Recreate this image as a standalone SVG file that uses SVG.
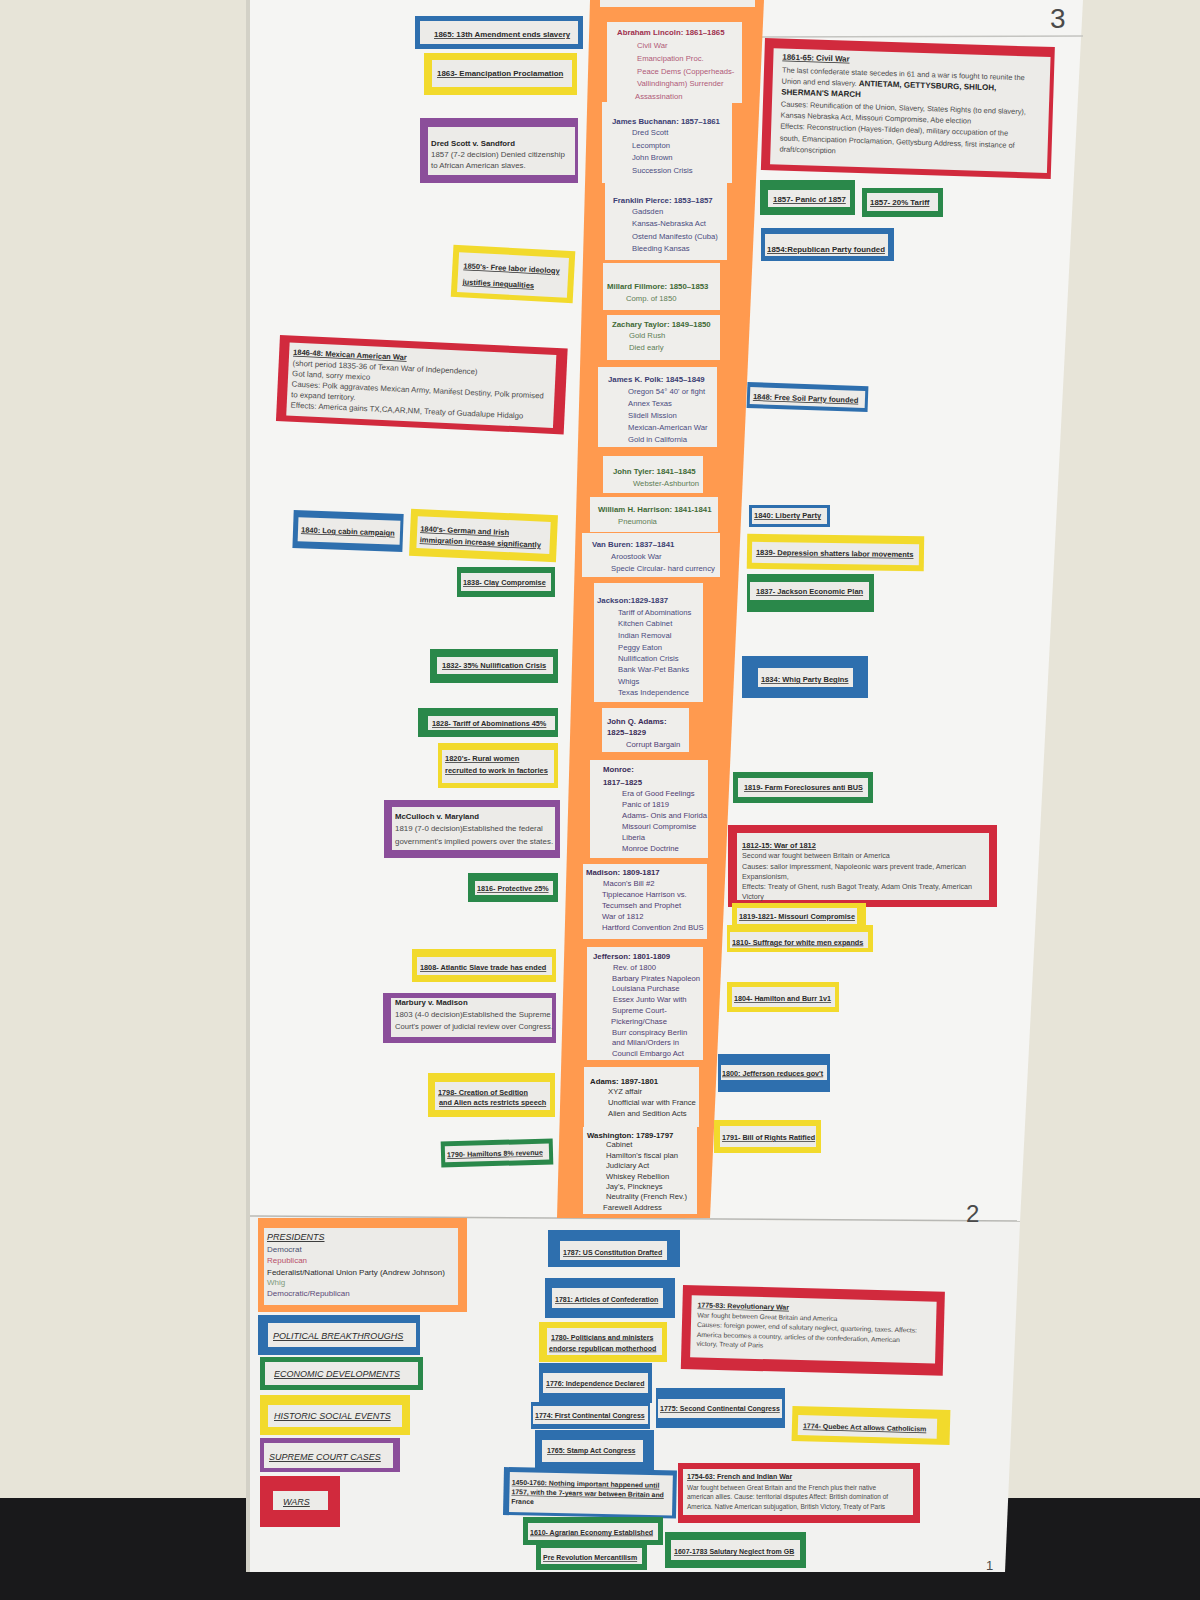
<svg xmlns="http://www.w3.org/2000/svg" width="1200" height="1600" viewBox="0 0 1200 1600">
<style>
text{font-family:"Liberation Sans",Arial,sans-serif}
.B{fill:#2e6fae}.Y{fill:#f2da2c}.G{fill:#2a884a}.P{fill:#8b4e9a}.R{fill:#d12a3d}.O{fill:#ff9a4f}
.in{fill:#ecebe8}.card{fill:#efeeeb}
.ev{font-size:7.5px;font-weight:bold;fill:#2a2a2a;text-decoration:underline}
.es{font-size:7px}
.d{font-size:7.4px;fill:#4a4a4a}
.ct{font-size:7.8px;font-weight:bold;fill:#262626}
.cd{font-size:7.9px;fill:#4a4a4a}
.bb{font-weight:bold;font-size:8px;fill:#262626}
.pt{font-size:7.8px;font-weight:bold}
.pi{font-size:7.7px}
.dem{fill:#3b3d72}.demi{fill:#4a4c80}
.rep{fill:#9e304e}.repi{fill:#b05a78}
.whig{fill:#3f6a36}.whigi{fill:#5d7d55}
.fed{fill:#222}.fedi{fill:#333}
.dr{fill:#3a2c58}.dri{fill:#4e3d72}
.lg{font-size:9px;font-style:italic;fill:#2a2a2a;text-decoration:underline}
.lt{font-size:8px}
.num{font-size:28px;fill:#4a4a4a}
</style>
<rect width="1200" height="1600" fill="#e7e4d8"/>
<rect y="1498" width="1200" height="102" fill="#19191b"/>
<polygon points="250,0 1083,0 1020,1222 250,1217" fill="#f5f5f3"/>
<polygon points="250,1217 1020,1222 1005,1572 250,1572" fill="#f2f2f0"/>
<rect x="246" y="0" width="4" height="1572" fill="#d3d1c7"/>
<line x1="250" y1="1216" x2="1020" y2="1221" stroke="#b8b8b4" stroke-width="1.5"/>
<line x1="760" y1="37" x2="1083" y2="36" stroke="#c4c4c0" stroke-width="1.5"/>
<polygon points="590,0 764,0 710,1218 557,1218" class="O"/>
<rect x="600" y="0" width="155" height="7" class="card"/>
<text class="num" x="1050" y="28">3</text>
<text class="num" x="966" y="1222" style="font-size:24px">2</text>
<text class="num" x="986" y="1570" style="font-size:13px">1</text>
<g id="connectors"></g>

<!-- LEFT -->
<g id="ev-1865"><rect class="B" x="415" y="16" width="168" height="33"/><rect class="in" x="420" y="21" width="158" height="23"/><text class="ev" x="434" y="37" style="font-size:7.9px">1865: 13th Amendment ends slavery</text></g>
<g id="ev-1863"><rect class="Y" x="424" y="53" width="153" height="42"/><rect class="in" x="432" y="60" width="140" height="27"/><text class="ev" x="437" y="76" style="font-size:7.9px">1863- Emancipation Proclamation</text></g>
<g id="scc-dred-scott"><rect class="P" x="420" y="118" width="158" height="65"/><rect class="in" x="428" y="127" width="147" height="48"/><text class="ct" x="431" y="145.5">Dred Scott v. Sandford</text><text class="cd" x="431" y="157">1857 (7-2 decision) Denied citizenship</text><text class="cd" x="431" y="168">to African American slaves.</text></g>
<g id="ev-1850s" transform="rotate(3 513 275)"><rect class="Y" x="452" y="248" width="122" height="52"/><rect class="in" x="458" y="255" width="110" height="40"/><text class="ev" x="463" y="271">1850's- Free labor ideology</text><text class="ev" x="463" y="287">justifies inequalities</text></g>
<g id="war-mexican" transform="rotate(2.7 280 335)"><rect class="R" x="280" y="335" width="288" height="86"/><rect class="in" x="290" y="342" width="267" height="73"/><text class="ev" x="294" y="354">1846-48: Mexican American War</text><text class="d" x="294" y="365" style="font-size:7.8px">(short period 1835-36 of Texan War of Independence)</text><text class="d" x="294" y="375.5" style="font-size:7.8px">Got land, sorry mexico</text><text class="d" x="294" y="386" style="font-size:7.8px">Causes: Polk aggravates Mexican Army, Manifest Destiny, Polk promised</text><text class="d" x="294" y="396.5" style="font-size:7.8px">to expand territory.</text><text class="d" x="294" y="407" style="font-size:7.8px">Effects: America gains TX,CA,AR,NM, Treaty of Guadalupe Hidalgo</text></g>
<g id="ev-1840-log" transform="rotate(2 348 532)"><rect class="B" x="293" y="512" width="110" height="38"/><rect class="in" x="298" y="519" width="102" height="24"/><text class="ev" x="301" y="534">1840: Log cabin campaign</text></g>
<g id="ev-1840s" transform="rotate(2.5 483 536)"><rect class="Y" x="410" y="512" width="147" height="47"/><rect class="in" x="417" y="519" width="133" height="32"/><text class="ev" x="420" y="534">1840's- German and Irish</text><text class="ev" x="420" y="545">immigration increase significantly</text></g>
<g id="ev-1838"><rect class="G" x="457" y="567" width="98" height="30"/><rect class="in" x="461" y="573" width="90" height="18"/><text class="ev" x="463" y="585" style="font-size:7.3px">1838- Clay Compromise</text></g>
<g id="ev-1832"><rect class="G" x="430" y="649" width="128" height="34"/><rect class="in" x="437" y="657" width="116" height="17"/><text class="ev" x="442" y="668">1832- 35% Nullification Crisis</text></g>
<g id="ev-1828"><rect class="G" x="418" y="708" width="140" height="29"/><rect class="in" x="428" y="716" width="127" height="14"/><text class="ev" x="432" y="726" style="font-size:7.3px">1828- Tariff of Abominations 45%</text></g>
<g id="ev-1820s"><rect class="Y" x="438" y="743" width="120" height="45"/><rect class="in" x="442" y="750" width="112" height="33"/><text class="ev" x="445" y="761">1820's- Rural women</text><text class="ev" x="445" y="773">recruited to work in factories</text></g>
<g id="scc-mcculloch"><rect class="P" x="384" y="800" width="176" height="58"/><rect class="in" x="392" y="807" width="163" height="43"/><text class="ct" x="395" y="819">McCulloch v. Maryland</text><text class="cd" x="395" y="831">1819 (7-0 decision)Established the federal</text><text class="cd" x="395" y="843.5">government's implied powers over the states.</text></g>
<g id="ev-1816"><rect class="G" x="468" y="873" width="90" height="29"/><rect class="in" x="475" y="881" width="78" height="14"/><text class="ev" x="477" y="891" style="font-size:7.2px">1816- Protective 25%</text></g>
<g id="ev-1808"><rect class="Y" x="412" y="949" width="144" height="33"/><rect class="in" x="417" y="957" width="135" height="18"/><text class="ev" x="420" y="970" style="font-size:7.3px">1808- Atlantic Slave trade has ended</text></g>
<g id="scc-marbury"><rect class="P" x="383" y="993" width="173" height="50"/><rect class="in" x="391" y="998" width="161" height="39"/><text class="ct" x="395" y="1004.5">Marbury v. Madison</text><text class="cd" x="395" y="1017">1803 (4-0 decision)Established the Supreme</text><text class="cd" x="395" y="1029" style="font-size:7.6px">Court's power of judicial review over Congress.</text></g>
<g id="ev-1798"><rect class="Y" x="428" y="1073" width="127" height="44"/><rect class="in" x="435" y="1082" width="115" height="28"/><text class="ev" x="438" y="1094.5" style="font-size:7.3px">1798- Creation of Sedition</text><text class="ev" x="439" y="1105" style="font-size:7.3px">and Alien acts restricts speech</text></g>
<g id="ev-1790" transform="rotate(-1.5 495 1153)"><rect class="G" x="441" y="1140" width="112" height="26"/><rect class="in" x="445" y="1145" width="104" height="16"/><text class="ev" x="447" y="1156" style="font-size:7.1px">1790- Hamiltons 8% revenue</text></g>

<!-- PRESIDENTS -->
<g id="pres-lincoln"><rect class="card" x="607" y="22" width="135" height="81"/><text class="pt rep" x="617" y="34.5">Abraham Lincoln: 1861–1865</text><text class="pi repi" x="637" y="48">Civil War</text><text class="pi repi" x="637" y="61">Emancipation Proc.</text><text class="pi repi" x="637" y="73.5">Peace Dems (Copperheads-</text><text class="pi repi" x="637" y="86">Vallindingham) Surrender</text><text class="pi repi" x="635" y="99">Assassination</text></g>
<g id="pres-buchanan"><rect class="card" x="602" y="102" width="130" height="81"/><text class="pt dem" x="612" y="123.5">James Buchanan: 1857–1861</text><text class="pi demi" x="632" y="135">Dred Scott</text><text class="pi demi" x="632" y="147.5">Lecompton</text><text class="pi demi" x="632" y="160">John Brown</text><text class="pi demi" x="632" y="172.5">Succession Crisis</text></g>
<g id="pres-pierce"><rect class="card" x="605" y="179" width="122" height="81"/><text class="pt dem" x="613" y="203">Franklin Pierce: 1853–1857</text><text class="pi demi" x="632" y="214">Gadsden</text><text class="pi demi" x="632" y="226">Kansas-Nebraska Act</text><text class="pi demi" x="632" y="238.5">Ostend Manifesto (Cuba)</text><text class="pi demi" x="632" y="251">Bleeding Kansas</text></g>
<g id="pres-fillmore"><rect class="card" x="603" y="263" width="117" height="47"/><text class="pt whig" x="607" y="289">Millard Fillmore: 1850–1853</text><text class="pi whigi" x="626" y="300.5">Comp. of 1850</text></g>
<g id="pres-taylor"><rect class="card" x="607" y="315" width="113" height="45"/><text class="pt whig" x="612" y="327">Zachary Taylor: 1849–1850</text><text class="pi whigi" x="629" y="338">Gold Rush</text><text class="pi whigi" x="629" y="350">Died early</text></g>
<g id="pres-polk"><rect class="card" x="598" y="367" width="119" height="80"/><text class="pt dem" x="608" y="382">James K. Polk: 1845–1849</text><text class="pi demi" x="628" y="393.5">Oregon 54° 40' or fight</text><text class="pi demi" x="628" y="406">Annex Texas</text><text class="pi demi" x="628" y="418">Slidell Mission</text><text class="pi demi" x="628" y="430">Mexican-American War</text><text class="pi demi" x="628" y="442">Gold in California</text></g>
<g id="pres-tyler"><rect class="card" x="603" y="456" width="100" height="37"/><text class="pt whig" x="613" y="473.5">John Tyler: 1841–1845</text><text class="pi whigi" x="633" y="485.5">Webster-Ashburton</text></g>
<g id="pres-harrison"><rect class="card" x="590" y="497" width="128" height="35"/><text class="pt whig" x="598" y="512">William H. Harrison: 1841-1841</text><text class="pi whigi" x="618" y="524">Pneumonia</text></g>
<g id="pres-vanburen"><rect class="card" x="582" y="533" width="138" height="44"/><text class="pt dem" x="592" y="547">Van Buren: 1837–1841</text><text class="pi demi" x="611" y="559">Aroostook War</text><text class="pi demi" x="611" y="571">Specie Circular- hard currency</text></g>
<g id="pres-jackson"><rect class="card" x="594" y="583" width="109" height="119"/><text class="pt dem" x="597" y="603">Jackson:1829-1837</text><text class="pi demi" x="618" y="614.5">Tariff of Abominations</text><text class="pi demi" x="618" y="626">Kitchen Cabinet</text><text class="pi demi" x="618" y="638">Indian Removal</text><text class="pi demi" x="618" y="649.5">Peggy Eaton</text><text class="pi demi" x="618" y="661">Nullification Crisis</text><text class="pi demi" x="618" y="672">Bank War-Pet Banks</text><text class="pi demi" x="618" y="683.5">Whigs</text><text class="pi demi" x="618" y="695">Texas Independence</text></g>
<g id="pres-jqadams"><rect class="card" x="602" y="708" width="87" height="44"/><text class="pt dr" x="607" y="724">John Q. Adams:</text><text class="pt dr" x="607" y="735">1825–1829</text><text class="pi dri" x="626" y="747">Corrupt Bargain</text></g>
<g id="pres-monroe"><rect class="card" x="590" y="760" width="118" height="98"/><text class="pt dr" x="603" y="772">Monroe:</text><text class="pt dr" x="603" y="784.5">1817–1825</text><text class="pi dri" x="622" y="795.5">Era of Good Feelings</text><text class="pi dri" x="622" y="806.5">Panic of 1819</text><text class="pi dri" x="622" y="818">Adams- Onis and Florida</text><text class="pi dri" x="622" y="829">Missouri Compromise</text><text class="pi dri" x="622" y="840">Liberia</text><text class="pi dri" x="622" y="851">Monroe Doctrine</text></g>
<g id="pres-madison"><rect class="card" x="583" y="864" width="124" height="75"/><text class="pt dr" x="586" y="874.5">Madison: 1809-1817</text><text class="pi dri" x="603" y="886">Macon's Bill #2</text><text class="pi dri" x="602" y="897">Tippiecanoe Harrison vs.</text><text class="pi dri" x="602" y="908">Tecumseh and Prophet</text><text class="pi dri" x="602" y="919">War of 1812</text><text class="pi dri" x="602" y="930">Hartford Convention 2nd BUS</text></g>
<g id="pres-jefferson"><rect class="card" x="587" y="947" width="116" height="113"/><text class="pt dr" x="593" y="958.5">Jefferson: 1801-1809</text><text class="pi dri" x="613" y="969.5">Rev. of 1800</text><text class="pi dri" x="612" y="980.5">Barbary Pirates Napoleon</text><text class="pi dri" x="612" y="991">Louisiana Purchase</text><text class="pi dri" x="613" y="1002">Essex Junto War with</text><text class="pi dri" x="612" y="1013">Supreme Court-</text><text class="pi dri" x="611" y="1023.5">Pickering/Chase</text><text class="pi dri" x="612" y="1034.5">Burr conspiracy Berlin</text><text class="pi dri" x="612" y="1045">and Milan/Orders in</text><text class="pi dri" x="612" y="1056">Council Embargo Act</text></g>
<g id="pres-adams"><rect class="card" x="584" y="1067" width="115" height="60"/><text class="pt fed" x="590" y="1084">Adams: 1897-1801</text><text class="pi fedi" x="608" y="1094">XYZ affair</text><text class="pi fedi" x="608" y="1105">Unofficial war with France</text><text class="pi fedi" x="608" y="1116">Alien and Sedition Acts</text></g>
<g id="pres-washington"><rect class="card" x="583" y="1127" width="114" height="87"/><text class="pt fed" x="587" y="1137.5">Washington: 1789-1797</text><text class="pi fedi" x="606" y="1147">Cabinet</text><text class="pi fedi" x="606" y="1157.5">Hamilton's fiscal plan</text><text class="pi fedi" x="606" y="1168">Judiciary Act</text><text class="pi fedi" x="606" y="1178.5">Whiskey Rebellion</text><text class="pi fedi" x="606" y="1188.5">Jay's, Pinckneys</text><text class="pi fedi" x="606" y="1198.5">Neutrality (French Rev.)</text><text class="pi fedi" x="603" y="1209.5">Farewell Address</text></g>

<!-- RIGHT -->
<g id="war-civil" transform="rotate(1.8 765 38)"><rect class="R" x="765" y="38" width="290" height="132"/><rect class="in" x="774" y="48" width="277" height="116"/><text class="ev" x="783" y="59" style="font-size:7.9px">1861-65: Civil War</text><text class="d" x="783" y="72">The last confederate state secedes in 61 and a war is fought to reunite the</text><text class="d" x="783" y="83">Union and end slavery. <tspan class="bb">ANTIETAM, GETTYSBURG, SHILOH,</tspan></text><text class="bb" x="783" y="94">SHERMAN'S MARCH</text><text class="d" x="783" y="106">Causes: Reunification of the Union, Slavery, States Rights (to end slavery),</text><text class="d" x="783" y="117">Kansas Nebraska Act, Missouri Compromise, Abe election</text><text class="d" x="783" y="128">Effects: Reconstruction (Hayes-Tilden deal), military occupation of the</text><text class="d" x="783" y="140">south, Emancipation Proclamation, Gettysburg Address, first instance of</text><text class="d" x="783" y="151">draft/conscription</text></g>
<g id="ev-1857-panic"><rect class="G" x="760" y="180" width="95" height="35"/><rect class="in" x="768" y="190" width="82" height="17"/><text class="ev" x="773" y="202" style="font-size:7.9px">1857- Panic of 1857</text></g>
<g id="ev-1857-tariff"><rect class="G" x="862" y="188" width="81" height="29"/><rect class="in" x="867" y="193" width="71" height="18"/><text class="ev" x="870" y="205" style="font-size:7.9px">1857- 20% Tariff</text></g>
<g id="ev-1854"><rect class="B" x="761" y="228" width="133" height="33"/><rect class="in" x="765" y="234" width="123" height="22"/><text class="ev" x="767" y="252" style="font-size:7.9px">1854:Republican Party founded</text></g>
<g id="ev-1848" transform="rotate(2 807 397)"><rect class="B" x="747" y="384" width="121" height="26"/><rect class="in" x="750" y="389" width="115" height="17"/><text class="ev" x="753" y="401">1848: Free Soil Party founded</text></g>
<g id="ev-1840-liberty"><rect class="B" x="749" y="505" width="81" height="22"/><rect class="in" x="752" y="508" width="75" height="16"/><text class="ev" x="754" y="518">1840: Liberty Party</text></g>
<g id="ev-1839" transform="rotate(0.8 835 552)"><rect class="Y" x="747" y="535" width="177" height="35"/><rect class="in" x="752" y="543" width="167" height="21"/><text class="ev" x="756" y="556">1839- Depression shatters labor movements</text></g>
<g id="ev-1837"><rect class="G" x="747" y="574" width="127" height="38"/><rect class="in" x="750" y="582" width="119" height="18"/><text class="ev" x="756" y="594">1837- Jackson Economic Plan</text></g>
<g id="ev-1834"><rect class="B" x="742" y="656" width="126" height="42"/><rect class="in" x="758" y="668" width="95" height="19"/><text class="ev" x="761" y="682">1834: Whig Party Begins</text></g>
<g id="ev-1819-farm"><rect class="G" x="733" y="772" width="140" height="31"/><rect class="in" x="738" y="778" width="130" height="19"/><text class="ev" x="744" y="790" style="font-size:7.3px">1819- Farm Foreclosures anti BUS</text></g>
<g id="war-1812"><rect class="R" x="728" y="825" width="269" height="82"/><rect class="in" x="737" y="833" width="252" height="67"/><text class="ev" x="742" y="848">1812-15: War of 1812</text><text class="d" x="742" y="858" style="font-size:7.2px">Second war fought between Britain or America</text><text class="d" x="742" y="868.5" style="font-size:7.2px">Causes: sailor impressment, Napoleonic wars prevent trade, American</text><text class="d" x="742" y="878.5" style="font-size:7.2px">Expansionism,</text><text class="d" x="742" y="889" style="font-size:7.2px">Effects: Treaty of Ghent, rush Bagot Treaty, Adam Onis Treaty, American</text><text class="d" x="742" y="898.5" style="font-size:7.2px">Victory</text></g>
<g id="ev-1819-missouri"><rect class="Y" x="732" y="903" width="134" height="27"/><rect class="in" x="737" y="908" width="120" height="16"/><text class="ev" x="739" y="919" style="font-size:7.3px">1819-1821- Missouri Compromise</text></g>
<g id="ev-1810"><rect class="Y" x="727" y="925" width="146" height="27"/><rect class="in" x="730" y="932" width="138" height="16"/><text class="ev" x="732" y="944.5" style="font-size:7.3px">1810- Suffrage for white men expands</text></g>
<g id="ev-1804"><rect class="Y" x="727" y="982" width="112" height="30"/><rect class="in" x="732" y="987" width="103" height="20"/><text class="ev" x="734" y="1001" style="font-size:7.2px">1804- Hamilton and Burr 1v1</text></g>
<g id="ev-1800"><rect class="B" x="718" y="1054" width="112" height="38"/><rect class="in" x="721" y="1065" width="106" height="15"/><text class="ev" x="722" y="1075.5" style="font-size:7.2px">1800: Jefferson reduces gov't</text></g>
<g id="ev-1791"><rect class="Y" x="714" y="1120" width="107" height="33"/><rect class="in" x="720" y="1126" width="96" height="21"/><text class="ev" x="722" y="1140" style="font-size:7.2px">1791- Bill of Rights Ratified</text></g>

<!-- LEGEND -->
<g id="legend-presidents"><rect class="O" x="258" y="1218" width="209" height="94"/><rect class="in" x="264" y="1228" width="194" height="77"/><text class="lg" x="267" y="1240">PRESIDENTS</text><text class="lt" x="267" y="1252" fill="#4a5070">Democrat</text><text class="lt" x="267" y="1263" fill="#b8506a">Republican</text><text class="lt" x="267" y="1275" fill="#2a2a2a">Federalist/National Union Party (Andrew Johnson)</text><text class="lt" x="267" y="1285" fill="#7f9a7c">Whig</text><text class="lt" x="267" y="1296" fill="#5a4a78">Democratic/Republican</text></g>
<g id="legend-political"><rect class="B" x="258" y="1315" width="162" height="40"/><rect class="in" x="268" y="1323" width="148" height="24"/><text class="lg" x="273" y="1339">POLITICAL BREAKTHROUGHS</text></g>
<g id="legend-economic"><rect class="G" x="260" y="1357" width="163" height="33"/><rect class="in" x="265" y="1362" width="153" height="23"/><text class="lg" x="274" y="1377">ECONOMIC DEVELOPMENTS</text></g>
<g id="legend-social"><rect class="Y" x="260" y="1395" width="150" height="40"/><rect class="in" x="268" y="1405" width="134" height="22"/><text class="lg" x="274" y="1419">HISTORIC SOCIAL EVENTS</text></g>
<g id="legend-court"><rect class="P" x="260" y="1438" width="140" height="34"/><rect class="in" x="264" y="1443" width="129" height="25"/><text class="lg" x="269" y="1460">SUPREME COURT CASES</text></g>
<g id="legend-wars"><rect class="R" x="260" y="1476" width="80" height="51"/><rect class="in" x="273" y="1491" width="55" height="19"/><text class="lg" x="283" y="1505">WARS</text></g>

<!-- BOTTOM -->
<g id="ev-1787"><rect class="B" x="548" y="1230" width="132" height="37"/><rect class="in" x="560" y="1241" width="107" height="19"/><text class="ev es" x="563" y="1255">1787: US Constitution Drafted</text></g>
<g id="ev-1781"><rect class="B" x="545" y="1278" width="130" height="40"/><rect class="in" x="552" y="1288" width="111" height="20"/><text class="ev es" x="555" y="1302">1781: Articles of Confederation</text></g>
<g id="ev-1780"><rect class="Y" x="539" y="1322" width="128" height="40"/><rect class="in" x="547" y="1328" width="115" height="27"/><text class="ev es" x="551" y="1339.5">1780- Politicians and ministers</text><text class="ev es" x="549" y="1350.5">endorse republican motherhood</text></g>
<g id="ev-1776"><rect class="B" x="539" y="1363" width="113" height="40"/><rect class="in" x="543" y="1373" width="105" height="20"/><text class="ev es" x="546" y="1386">1776: Independence Declared</text></g>
<g id="ev-1775-second"><rect class="B" x="656" y="1388" width="129" height="40"/><rect class="in" x="658" y="1399" width="124" height="19"/><text class="ev es" x="660" y="1411">1775: Second Continental Congress</text></g>
<g id="ev-1774-first"><rect class="B" x="531" y="1402" width="119" height="27"/><rect class="in" x="533" y="1406" width="115" height="18"/><text class="ev es" x="535" y="1418">1774: First Continental Congress</text></g>
<g id="ev-1774-quebec" transform="rotate(1.5 870 1425)"><rect class="Y" x="792" y="1408" width="158" height="35"/><rect class="in" x="798" y="1417" width="139" height="20"/><text class="ev es" x="803" y="1430">1774- Quebec Act allows Catholicism</text></g>
<g id="war-revolutionary" transform="rotate(1.5 683 1285)"><rect class="R" x="683" y="1285" width="262" height="84"/><rect class="in" x="692" y="1295" width="245" height="62"/><text class="ev es" x="698" y="1307">1775-83: Revolutionary War</text><text class="d" x="698" y="1317" style="font-size:6.8px">War fought between Great Britain and America</text><text class="d" x="698" y="1326.5" style="font-size:6.8px">Causes: foreign power, end of salutary neglect, quartering, taxes. Affects:</text><text class="d" x="698" y="1336.5" style="font-size:6.8px">America becomes a country, articles of the confederation, American</text><text class="d" x="698" y="1345.5" style="font-size:6.8px">victory, Treaty of Paris</text></g>
<g id="ev-1765"><rect class="B" x="535" y="1430" width="119" height="40"/><rect class="in" x="542" y="1440" width="101" height="22"/><text class="ev es" x="547" y="1453">1765: Stamp Act Congress</text></g>
<g id="ev-1450" transform="rotate(1.2 504 1467)"><rect class="B" x="504" y="1467" width="173" height="48"/><rect class="in" x="510" y="1472" width="163" height="40"/><text class="ev" x="512" y="1484.5" style="font-size:6.9px">1450-1760: Nothing important happened until</text><text class="ev" x="512" y="1494" style="font-size:6.9px">1757, with the 7-years war between Britain and</text><text class="ev" x="512" y="1503.5" style="font-size:6.9px;text-decoration:none">France</text></g>
<g id="war-french-indian"><rect class="R" x="678" y="1463" width="242" height="60"/><rect class="in" x="683" y="1469" width="230" height="46"/><text class="ev es" x="687" y="1479">1754-63: French and Indian War</text><text class="d" x="687" y="1489.5" style="font-size:6.5px">War fought between Great Britain and the French plus their native</text><text class="d" x="687" y="1499" style="font-size:6.5px">american allies. Cause: territorial disputes Affect: British domination of</text><text class="d" x="687" y="1509" style="font-size:6.5px">America. Native American subjugation, British Victory, Treaty of Paris</text></g>
<g id="ev-1610"><rect class="G" x="523" y="1517" width="140" height="28"/><rect class="in" x="528" y="1523" width="130" height="17"/><text class="ev es" x="530" y="1534.5">1610- Agrarian Economy Established</text></g>
<g id="ev-mercantilism"><rect class="G" x="536" y="1543" width="111" height="27"/><rect class="in" x="541" y="1548" width="101" height="16"/><text class="ev es" x="543" y="1560">Pre Revolution Mercantilism</text></g>
<g id="ev-1607"><rect class="G" x="665" y="1532" width="141" height="36"/><rect class="in" x="671" y="1540" width="129" height="20"/><text class="ev es" x="674" y="1554">1607-1783 Salutary Neglect from GB</text></g>
</svg>
